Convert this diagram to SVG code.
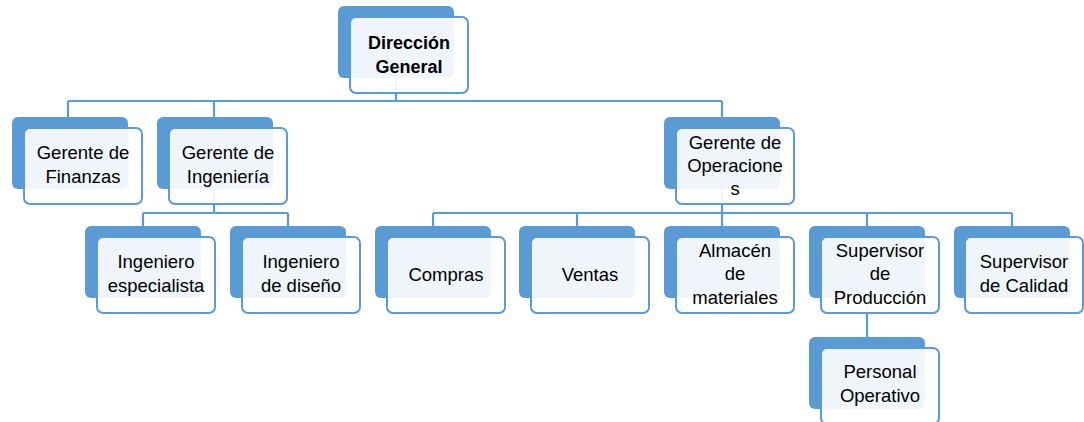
<svg xmlns="http://www.w3.org/2000/svg" width="1084" height="422" viewBox="0 0 1084 422">
<style>
.bk{fill:#5B9BD5;}
.fr{fill:#ffffff;fill-opacity:0.9;stroke:#5B9BD5;stroke-width:2;}
.ln{fill:none;stroke:#5B9BD5;stroke-width:2.2;}
text{font-family:"Liberation Sans",Arial,sans-serif;font-size:18.5px;fill:#000;text-anchor:middle;}
.b{font-weight:bold;font-size:18px;}
</style>
<rect width="1084" height="422" fill="#fff"/>
<g id="connectors" class="ln">
<path d="M396 60V101M68 101H722M68 101V130M214 101V130M722 101V130"/>
<path d="M214 170V213M143 213H288M143 213V240M288 213V240"/>
<path d="M722 170V213M433 213H1012M433 213V240M577 213V240M722 213V240M867 213V240M1012 213V240"/>
<path d="M867 280V350"/>
</g>
<g id="n-direccion"><rect class="bk" x="338" y="6" width="116" height="72" rx="6"/><rect class="fr" x="350" y="17" width="118" height="76" rx="6"/><text class="b" x="409" y="49">Dirección</text><text class="b" x="409" y="73">General</text></g>
<g id="n-finanzas"><rect class="bk" x="12" y="117" width="116" height="72" rx="6"/><rect class="fr" x="24" y="128" width="118" height="76" rx="6"/><text x="83" y="159">Gerente de</text><text x="83" y="183">Finanzas</text></g>
<g id="n-ingenieria"><rect class="bk" x="157" y="117" width="116" height="72" rx="6"/><rect class="fr" x="169" y="128" width="118" height="76" rx="6"/><text x="228" y="159">Gerente de</text><text x="228" y="183">Ingeniería</text></g>
<g id="n-operaciones"><rect class="bk" x="664" y="117" width="116" height="72" rx="6"/><rect class="fr" x="676" y="128" width="118" height="76" rx="6"/><text x="735" y="149">Gerente de</text><text x="735" y="172">Operacione</text><text x="735" y="195">s</text></g>
<g id="n-especialista"><rect class="bk" x="85" y="226" width="116" height="72" rx="6"/><rect class="fr" x="97" y="237" width="118" height="76" rx="6"/><text x="156" y="268">Ingeniero</text><text x="156" y="292">especialista</text></g>
<g id="n-diseno"><rect class="bk" x="230" y="226" width="116" height="72" rx="6"/><rect class="fr" x="242" y="237" width="118" height="76" rx="6"/><text x="301" y="268">Ingeniero</text><text x="301" y="292">de diseño</text></g>
<g id="n-compras"><rect class="bk" x="375" y="226" width="116" height="72" rx="6"/><rect class="fr" x="387" y="237" width="118" height="76" rx="6"/><text x="446" y="281">Compras</text></g>
<g id="n-ventas"><rect class="bk" x="519" y="226" width="116" height="72" rx="6"/><rect class="fr" x="531" y="237" width="118" height="76" rx="6"/><text x="590" y="281">Ventas</text></g>
<g id="n-almacen"><rect class="bk" x="664" y="226" width="116" height="72" rx="6"/><rect class="fr" x="676" y="237" width="118" height="76" rx="6"/><text x="735" y="257">Almacén</text><text x="735" y="280">de</text><text x="735" y="304">materiales</text></g>
<g id="n-produccion"><rect class="bk" x="809" y="226" width="116" height="72" rx="6"/><rect class="fr" x="821" y="237" width="118" height="76" rx="6"/><text x="880" y="257">Supervisor</text><text x="880" y="280">de</text><text x="880" y="304">Producción</text></g>
<g id="n-calidad"><rect class="bk" x="954" y="226" width="116" height="72" rx="6"/><rect class="fr" x="965" y="237" width="118" height="76" rx="6"/><text x="1024" y="268">Supervisor</text><text x="1024" y="292">de Calidad</text></g>
<g id="n-personal"><rect class="bk" x="809" y="337" width="116" height="72" rx="6"/><rect class="fr" x="821" y="348" width="118" height="76" rx="6"/><text x="880" y="378">Personal</text><text x="880" y="402">Operativo</text></g>
</svg>
